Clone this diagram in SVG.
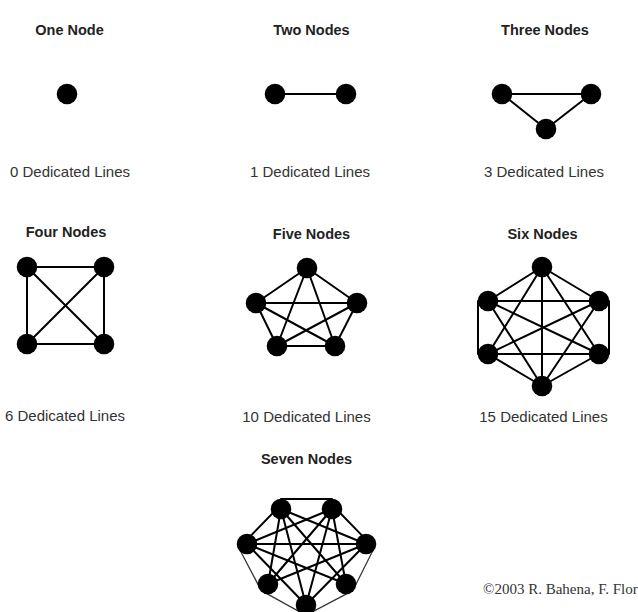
<svg xmlns="http://www.w3.org/2000/svg" width="638" height="612" viewBox="0 0 638 612">
<style>
.title{font-family:"Liberation Sans",Arial,sans-serif;font-size:14.5px;font-weight:bold;fill:#222;text-anchor:middle}
.label{font-family:"Liberation Sans",Arial,sans-serif;font-size:15px;fill:#333;text-anchor:middle}
.copy{font-family:"Liberation Serif","Times New Roman",serif;font-size:15px;fill:#333}
.edge{stroke:#000;stroke-width:2;fill:none;stroke-linecap:round}
.thin{stroke:#333;stroke-width:1.3;fill:none}
.node{fill:#000}
</style>
<rect width="638" height="612" fill="#fff"/>
<g id="labels">
<text class="title" x="69.5" y="35">One Node</text>
<text class="title" x="311.5" y="35">Two Nodes</text>
<text class="title" x="545" y="35">Three Nodes</text>
<text class="title" x="66" y="236.5">Four Nodes</text>
<text class="title" x="311.5" y="239">Five Nodes</text>
<text class="title" x="542.5" y="239">Six Nodes</text>
<text class="title" x="306.5" y="464">Seven Nodes</text>
<text class="label" x="70" y="176.5">0 Dedicated Lines</text>
<text class="label" x="310" y="176.5">1 Dedicated Lines</text>
<text class="label" x="544" y="176.5">3 Dedicated Lines</text>
<text class="label" x="65" y="421">6 Dedicated Lines</text>
<text class="label" x="306.5" y="422">10 Dedicated Lines</text>
<text class="label" x="543.5" y="422">15 Dedicated Lines</text>
<text class="copy" x="483" y="594">©2003 R. Bahena, F. Flor</text>
</g>
<g id="connectors">
<!-- two -->
<line class="edge" x1="275" y1="94" x2="346" y2="94"/>
<!-- three -->
<line class="edge" x1="502" y1="94" x2="591" y2="94"/>
<line class="edge" x1="502" y1="94" x2="546" y2="129"/>
<line class="edge" x1="591" y1="94" x2="546" y2="129"/>
<!-- four -->
<line class="edge" x1="27" y1="267" x2="104" y2="267"/>
<line class="edge" x1="27" y1="344" x2="104" y2="344"/>
<line class="edge" x1="27" y1="267" x2="27" y2="344"/>
<line class="edge" x1="104" y1="267" x2="104" y2="344"/>
<line class="edge" x1="27" y1="267" x2="104" y2="344"/>
<line class="edge" x1="104" y1="267" x2="27" y2="344"/>
<!-- five -->
<line class="edge" x1="307" y1="268" x2="256" y2="303"/>
<line class="edge" x1="307" y1="268" x2="357" y2="303"/>
<line class="edge" x1="307" y1="268" x2="277" y2="346"/>
<line class="edge" x1="307" y1="268" x2="335" y2="346"/>
<line class="edge" x1="256" y1="303" x2="357" y2="303"/>
<line class="edge" x1="256" y1="303" x2="277" y2="346"/>
<line class="edge" x1="256" y1="303" x2="335" y2="346"/>
<line class="edge" x1="357" y1="303" x2="277" y2="346"/>
<line class="edge" x1="357" y1="303" x2="335" y2="346"/>
<line class="edge" x1="277" y1="346" x2="335" y2="346"/>
<!-- six -->
<line class="edge" x1="542" y1="267" x2="488" y2="301"/>
<line class="edge" x1="542" y1="267" x2="599" y2="301"/>
<line class="edge" x1="542" y1="267" x2="488" y2="354"/>
<line class="edge" x1="542" y1="267" x2="599" y2="354"/>
<line class="edge" x1="542" y1="267" x2="542" y2="386"/>
<line class="edge" x1="488" y1="301" x2="599" y2="301"/>
<line class="edge" x1="478" y1="301" x2="478" y2="354"/>
<line class="edge" x1="488" y1="301" x2="599" y2="354"/>
<line class="edge" x1="488" y1="301" x2="542" y2="386"/>
<line class="edge" x1="599" y1="301" x2="488" y2="354"/>
<line class="edge" x1="609" y1="301" x2="609" y2="354"/>
<line class="edge" x1="599" y1="301" x2="542" y2="386"/>
<line class="edge" x1="488" y1="354" x2="599" y2="354"/>
<line class="edge" x1="488" y1="354" x2="542" y2="386"/>
<line class="edge" x1="599" y1="354" x2="542" y2="386"/>
<!-- seven -->
<line class="edge" x1="281" y1="499" x2="332" y2="499"/>
<line class="edge" x1="278.8" y1="506.9" x2="244.8" y2="541.9"/>
<line class="edge" x1="334.2" y1="506.9" x2="368.2" y2="541.9"/>
<line class="thin" x1="239" y1="548.2" x2="260" y2="588.2"/>
<line class="thin" x1="374" y1="548.2" x2="354" y2="588.2"/>
<line class="thin" x1="263.6" y1="591.9" x2="301.6" y2="612.9"/>
<line class="thin" x1="350.4" y1="591.9" x2="310.4" y2="612.9"/>
<line class="edge" x1="281" y1="509" x2="366" y2="544"/>
<line class="edge" x1="281" y1="509" x2="268" y2="584"/>
<line class="edge" x1="281" y1="509" x2="346" y2="584"/>
<line class="edge" x1="281" y1="509" x2="306" y2="605"/>
<line class="edge" x1="332" y1="509" x2="247" y2="544"/>
<line class="edge" x1="332" y1="509" x2="268" y2="584"/>
<line class="edge" x1="332" y1="509" x2="346" y2="584"/>
<line class="edge" x1="332" y1="509" x2="306" y2="605"/>
<line class="edge" x1="247" y1="544" x2="366" y2="544"/>
<line class="edge" x1="247" y1="544" x2="346" y2="584"/>
<line class="edge" x1="247" y1="544" x2="306" y2="605"/>
<line class="edge" x1="366" y1="544" x2="268" y2="584"/>
<line class="edge" x1="366" y1="544" x2="306" y2="605"/>
</g>
<g id="g1-n1"><circle class="node" cx="67" cy="94" r="10.3"/></g>
<g id="g2-n1"><circle class="node" cx="275" cy="94" r="10.3"/></g>
<g id="g2-n2"><circle class="node" cx="346" cy="94" r="10.3"/></g>
<g id="g3-n1"><circle class="node" cx="502" cy="94" r="10.3"/></g>
<g id="g3-n2"><circle class="node" cx="591" cy="94" r="10.3"/></g>
<g id="g3-n3"><circle class="node" cx="546" cy="129" r="10.3"/></g>
<g id="g4-n1"><circle class="node" cx="27" cy="267" r="10.3"/></g>
<g id="g4-n2"><circle class="node" cx="104" cy="267" r="10.3"/></g>
<g id="g4-n3"><circle class="node" cx="27" cy="344" r="10.3"/></g>
<g id="g4-n4"><circle class="node" cx="104" cy="344" r="10.3"/></g>
<g id="g5-n1"><circle class="node" cx="307" cy="268" r="10.3"/></g>
<g id="g5-n2"><circle class="node" cx="256" cy="303" r="10.3"/></g>
<g id="g5-n3"><circle class="node" cx="357" cy="303" r="10.3"/></g>
<g id="g5-n4"><circle class="node" cx="277" cy="346" r="10.3"/></g>
<g id="g5-n5"><circle class="node" cx="335" cy="346" r="10.3"/></g>
<g id="g6-n1"><circle class="node" cx="542" cy="267" r="10.3"/></g>
<g id="g6-n2"><circle class="node" cx="488" cy="301" r="10.3"/></g>
<g id="g6-n3"><circle class="node" cx="599" cy="301" r="10.3"/></g>
<g id="g6-n4"><circle class="node" cx="488" cy="354" r="10.3"/></g>
<g id="g6-n5"><circle class="node" cx="599" cy="354" r="10.3"/></g>
<g id="g6-n6"><circle class="node" cx="542" cy="386" r="10.3"/></g>
<g id="g7-n1"><circle class="node" cx="281" cy="509" r="10.3"/></g>
<g id="g7-n2"><circle class="node" cx="332" cy="509" r="10.3"/></g>
<g id="g7-n3"><circle class="node" cx="247" cy="544" r="10.3"/></g>
<g id="g7-n4"><circle class="node" cx="366" cy="544" r="10.3"/></g>
<g id="g7-n5"><circle class="node" cx="268" cy="584" r="10.3"/></g>
<g id="g7-n6"><circle class="node" cx="346" cy="584" r="10.3"/></g>
<g id="g7-n7"><circle class="node" cx="306" cy="605" r="10.3"/></g>
</svg>
